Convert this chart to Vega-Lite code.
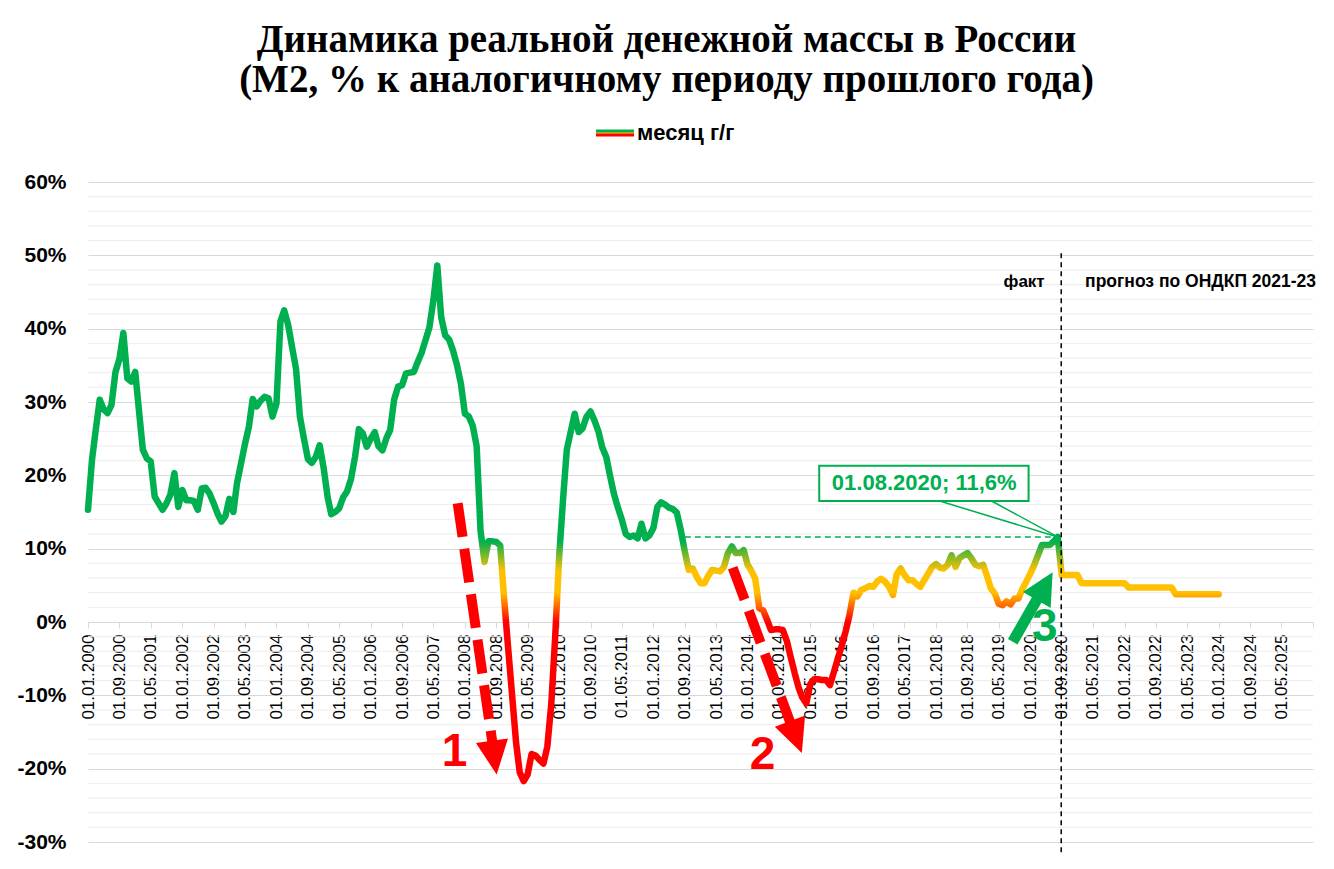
{
  "$schema": "https://vega.github.io/schema/vega-lite/v6.json",
  "width": 1225,
  "height": 660,
  "autosize": {"type": "none"},
  "padding": {"left": 88, "top": 182, "right": 21, "bottom": 27},
  "background": "white",
  "config": {"view": {"stroke": null}, "font": "Liberation Sans"},
  "title": {
    "text": ["Динамика реальной денежной массы в России", "(М2, % к аналогичному периоду прошлого года)"],
    "anchor": "middle", "frame": "group", "dx": -34, "offset": 14,
    "font": "Liberation Serif", "fontSize": 39, "fontWeight": "bold", "lineHeight": 40, "color": "black"
  },
  "datasets": {
    "m2": [
      {"d":"2000-01-01","v":15.3},{"d":"2000-02-01","v":22.1},{"d":"2000-03-01","v":26.2},{"d":"2000-04-01","v":30.3},{"d":"2000-05-01","v":29.0},{"d":"2000-06-01","v":28.5},{"d":"2000-07-01","v":29.6},{"d":"2000-08-01","v":34.1},{"d":"2000-09-01","v":35.9},{"d":"2000-10-01","v":39.4},{"d":"2000-11-01","v":33.2},{"d":"2000-12-01","v":32.8},
      {"d":"2001-01-01","v":34.1},{"d":"2001-02-01","v":28.5},{"d":"2001-03-01","v":23.5},{"d":"2001-04-01","v":22.3},{"d":"2001-05-01","v":21.9},{"d":"2001-06-01","v":17.1},{"d":"2001-07-01","v":16.2},{"d":"2001-08-01","v":15.3},{"d":"2001-09-01","v":16.2},{"d":"2001-10-01","v":17.4},{"d":"2001-11-01","v":20.3},{"d":"2001-12-01","v":15.7},
      {"d":"2002-01-01","v":18.0},{"d":"2002-02-01","v":16.6},{"d":"2002-03-01","v":16.6},{"d":"2002-04-01","v":16.5},{"d":"2002-05-01","v":15.3},{"d":"2002-06-01","v":18.2},{"d":"2002-07-01","v":18.3},{"d":"2002-08-01","v":17.5},{"d":"2002-09-01","v":16.2},{"d":"2002-10-01","v":14.8},{"d":"2002-11-01","v":13.7},{"d":"2002-12-01","v":14.4},
      {"d":"2003-01-01","v":16.8},{"d":"2003-02-01","v":15.0},{"d":"2003-03-01","v":18.9},{"d":"2003-04-01","v":21.6},{"d":"2003-05-01","v":24.2},{"d":"2003-06-01","v":26.6},{"d":"2003-07-01","v":30.4},{"d":"2003-08-01","v":29.4},{"d":"2003-09-01","v":30.2},{"d":"2003-10-01","v":30.7},{"d":"2003-11-01","v":30.5},{"d":"2003-12-01","v":28.0},
      {"d":"2004-01-01","v":29.8},{"d":"2004-02-01","v":41.0},{"d":"2004-03-01","v":42.5},{"d":"2004-04-01","v":40.5},{"d":"2004-05-01","v":37.5},{"d":"2004-06-01","v":34.5},{"d":"2004-07-01","v":28.0},{"d":"2004-08-01","v":25.0},{"d":"2004-09-01","v":22.2},{"d":"2004-10-01","v":21.7},{"d":"2004-11-01","v":22.5},{"d":"2004-12-01","v":24.1},
      {"d":"2005-01-01","v":21.0},{"d":"2005-02-01","v":17.0},{"d":"2005-03-01","v":14.7},{"d":"2005-04-01","v":15.0},{"d":"2005-05-01","v":15.5},{"d":"2005-06-01","v":17.0},{"d":"2005-07-01","v":17.8},{"d":"2005-08-01","v":19.5},{"d":"2005-09-01","v":22.5},{"d":"2005-10-01","v":26.3},{"d":"2005-11-01","v":25.7},{"d":"2005-12-01","v":23.9},
      {"d":"2006-01-01","v":25.0},{"d":"2006-02-01","v":25.9},{"d":"2006-03-01","v":24.0},{"d":"2006-04-01","v":23.4},{"d":"2006-05-01","v":25.0},{"d":"2006-06-01","v":26.2},{"d":"2006-07-01","v":30.3},{"d":"2006-08-01","v":32.1},{"d":"2006-09-01","v":32.3},{"d":"2006-10-01","v":33.9},{"d":"2006-11-01","v":34.0},{"d":"2006-12-01","v":34.1},
      {"d":"2007-01-01","v":35.5},{"d":"2007-02-01","v":36.8},{"d":"2007-03-01","v":38.4},{"d":"2007-04-01","v":40.2},{"d":"2007-05-01","v":43.8},{"d":"2007-06-01","v":48.6},{"d":"2007-07-01","v":41.6},{"d":"2007-08-01","v":39.1},{"d":"2007-09-01","v":38.5},{"d":"2007-10-01","v":37.0},{"d":"2007-11-01","v":35.0},{"d":"2007-12-01","v":32.5},
      {"d":"2008-01-01","v":28.4},{"d":"2008-02-01","v":28.0},{"d":"2008-03-01","v":26.8},{"d":"2008-04-01","v":24.0},{"d":"2008-05-01","v":12.5},{"d":"2008-06-01","v":8.2},{"d":"2008-07-01","v":11.0},{"d":"2008-08-01","v":11.0},{"d":"2008-09-01","v":10.9},{"d":"2008-10-01","v":10.4},{"d":"2008-11-01","v":3.0},{"d":"2008-12-01","v":-3.5},
      {"d":"2009-01-01","v":-10.0},{"d":"2009-02-01","v":-16.5},{"d":"2009-03-01","v":-20.5},{"d":"2009-04-01","v":-21.7},{"d":"2009-05-01","v":-20.8},{"d":"2009-06-01","v":-18.0},{"d":"2009-07-01","v":-18.2},{"d":"2009-08-01","v":-18.8},{"d":"2009-09-01","v":-19.3},{"d":"2009-10-01","v":-17.0},{"d":"2009-11-01","v":-11.1},{"d":"2009-12-01","v":-2.0},
      {"d":"2010-01-01","v":9.0},{"d":"2010-02-01","v":17.0},{"d":"2010-03-01","v":23.5},{"d":"2010-04-01","v":26.0},{"d":"2010-05-01","v":28.4},{"d":"2010-06-01","v":25.9},{"d":"2010-07-01","v":26.4},{"d":"2010-08-01","v":28.0},{"d":"2010-09-01","v":28.7},{"d":"2010-10-01","v":27.5},{"d":"2010-11-01","v":26.0},{"d":"2010-12-01","v":23.8},
      {"d":"2011-01-01","v":22.5},{"d":"2011-02-01","v":19.8},{"d":"2011-03-01","v":17.5},{"d":"2011-04-01","v":15.6},{"d":"2011-05-01","v":14.0},{"d":"2011-06-01","v":12.0},{"d":"2011-07-01","v":11.6},{"d":"2011-08-01","v":11.8},{"d":"2011-09-01","v":11.4},{"d":"2011-10-01","v":13.4},{"d":"2011-11-01","v":11.4},{"d":"2011-12-01","v":11.8},
      {"d":"2012-01-01","v":12.8},{"d":"2012-02-01","v":15.7},{"d":"2012-03-01","v":16.3},{"d":"2012-04-01","v":16.0},{"d":"2012-05-01","v":15.6},{"d":"2012-06-01","v":15.4},{"d":"2012-07-01","v":14.9},{"d":"2012-08-01","v":12.5},{"d":"2012-09-01","v":9.6},{"d":"2012-10-01","v":7.1},{"d":"2012-11-01","v":7.3},{"d":"2012-12-01","v":6.2},
      {"d":"2013-01-01","v":5.3},{"d":"2013-02-01","v":5.3},{"d":"2013-03-01","v":6.3},{"d":"2013-04-01","v":7.1},{"d":"2013-05-01","v":7.0},{"d":"2013-06-01","v":6.9},{"d":"2013-07-01","v":7.5},{"d":"2013-08-01","v":9.4},{"d":"2013-09-01","v":10.3},{"d":"2013-10-01","v":9.4},{"d":"2013-11-01","v":9.4},{"d":"2013-12-01","v":9.8},
      {"d":"2014-01-01","v":7.8},{"d":"2014-02-01","v":6.9},{"d":"2014-03-01","v":5.9},{"d":"2014-04-01","v":1.9},{"d":"2014-05-01","v":1.6},{"d":"2014-06-01","v":0.3},{"d":"2014-07-01","v":-1.1},{"d":"2014-08-01","v":-1.0},{"d":"2014-09-01","v":-1.0},{"d":"2014-10-01","v":-1.1},{"d":"2014-11-01","v":-2.6},{"d":"2014-12-01","v":-4.8},
      {"d":"2015-01-01","v":-7.0},{"d":"2015-02-01","v":-9.0},{"d":"2015-03-01","v":-10.3},{"d":"2015-04-01","v":-11.1},{"d":"2015-05-01","v":-8.5},{"d":"2015-06-01","v":-7.8},{"d":"2015-07-01","v":-7.8},{"d":"2015-08-01","v":-7.9},{"d":"2015-09-01","v":-7.9},{"d":"2015-10-01","v":-8.6},{"d":"2015-11-01","v":-6.8},{"d":"2015-12-01","v":-5.0},
      {"d":"2016-01-01","v":-3.2},{"d":"2016-02-01","v":-1.2},{"d":"2016-03-01","v":1.0},{"d":"2016-04-01","v":4.0},{"d":"2016-05-01","v":3.5},{"d":"2016-06-01","v":4.4},{"d":"2016-07-01","v":4.6},{"d":"2016-08-01","v":4.9},{"d":"2016-09-01","v":4.8},{"d":"2016-10-01","v":5.5},{"d":"2016-11-01","v":5.9},{"d":"2016-12-01","v":5.5},
      {"d":"2017-01-01","v":4.8},{"d":"2017-02-01","v":3.7},{"d":"2017-03-01","v":6.5},{"d":"2017-04-01","v":7.3},{"d":"2017-05-01","v":6.4},{"d":"2017-06-01","v":5.7},{"d":"2017-07-01","v":5.7},{"d":"2017-08-01","v":5.2},{"d":"2017-09-01","v":4.8},{"d":"2017-10-01","v":5.7},{"d":"2017-11-01","v":6.6},{"d":"2017-12-01","v":7.5},
      {"d":"2018-01-01","v":7.9},{"d":"2018-02-01","v":7.4},{"d":"2018-03-01","v":7.3},{"d":"2018-04-01","v":7.8},{"d":"2018-05-01","v":9.1},{"d":"2018-06-01","v":7.5},{"d":"2018-07-01","v":8.7},{"d":"2018-08-01","v":9.1},{"d":"2018-09-01","v":9.4},{"d":"2018-10-01","v":8.7},{"d":"2018-11-01","v":7.8},{"d":"2018-12-01","v":7.6},
      {"d":"2019-01-01","v":7.8},{"d":"2019-02-01","v":6.2},{"d":"2019-03-01","v":4.6},{"d":"2019-04-01","v":3.9},{"d":"2019-05-01","v":2.5},{"d":"2019-06-01","v":2.3},{"d":"2019-07-01","v":2.8},{"d":"2019-08-01","v":2.4},{"d":"2019-09-01","v":3.2},{"d":"2019-10-01","v":3.2},{"d":"2019-11-01","v":4.5},{"d":"2019-12-01","v":5.5},
      {"d":"2020-01-01","v":6.6},{"d":"2020-02-01","v":7.8},{"d":"2020-03-01","v":9.1},{"d":"2020-04-01","v":10.5},{"d":"2020-05-01","v":10.5},{"d":"2020-06-01","v":10.5},{"d":"2020-07-01","v":11.0},{"d":"2020-08-01","v":11.6},{"d":"2020-09-01","v":6.4},{"d":"2020-10-01","v":6.4},{"d":"2020-11-01","v":6.4},{"d":"2020-12-01","v":6.4},
      {"d":"2021-01-01","v":6.4},{"d":"2021-02-01","v":5.3},{"d":"2021-03-01","v":5.3},{"d":"2021-04-01","v":5.3},{"d":"2021-05-01","v":5.3},{"d":"2021-06-01","v":5.3},{"d":"2021-07-01","v":5.3},{"d":"2021-08-01","v":5.3},{"d":"2021-09-01","v":5.3},{"d":"2021-10-01","v":5.3},{"d":"2021-11-01","v":5.3},{"d":"2021-12-01","v":5.3},
      {"d":"2022-01-01","v":5.3},{"d":"2022-02-01","v":4.7},{"d":"2022-03-01","v":4.7},{"d":"2022-04-01","v":4.7},{"d":"2022-05-01","v":4.7},{"d":"2022-06-01","v":4.7},{"d":"2022-07-01","v":4.7},{"d":"2022-08-01","v":4.7},{"d":"2022-09-01","v":4.7},{"d":"2022-10-01","v":4.7},{"d":"2022-11-01","v":4.7},{"d":"2022-12-01","v":4.7},
      {"d":"2023-01-01","v":4.7},{"d":"2023-02-01","v":3.8},{"d":"2023-03-01","v":3.8},{"d":"2023-04-01","v":3.8},{"d":"2023-05-01","v":3.8},{"d":"2023-06-01","v":3.8},{"d":"2023-07-01","v":3.8},{"d":"2023-08-01","v":3.8},{"d":"2023-09-01","v":3.8},{"d":"2023-10-01","v":3.8},{"d":"2023-11-01","v":3.8},{"d":"2023-12-01","v":3.8},
      {"d":"2024-01-01","v":3.8}
    ]
  },
  "encoding": {
    "x": {
      "field": "d", "type": "temporal",
      "scale": {"type": "utc", "domain": [{"year": 2000, "month": 1, "date": 1, "utc": true}, {"year": 2026, "month": 1, "date": 1, "utc": true}]},
      "axis": {
        "title": null, "grid": false, "offset": -220,
        "values": [
          {"year":2000,"month":1,"date":1,"utc":true},{"year":2000,"month":9,"date":1,"utc":true},{"year":2001,"month":5,"date":1,"utc":true},
          {"year":2002,"month":1,"date":1,"utc":true},{"year":2002,"month":9,"date":1,"utc":true},{"year":2003,"month":5,"date":1,"utc":true},
          {"year":2004,"month":1,"date":1,"utc":true},{"year":2004,"month":9,"date":1,"utc":true},{"year":2005,"month":5,"date":1,"utc":true},
          {"year":2006,"month":1,"date":1,"utc":true},{"year":2006,"month":9,"date":1,"utc":true},{"year":2007,"month":5,"date":1,"utc":true},
          {"year":2008,"month":1,"date":1,"utc":true},{"year":2008,"month":9,"date":1,"utc":true},{"year":2009,"month":5,"date":1,"utc":true},
          {"year":2010,"month":1,"date":1,"utc":true},{"year":2010,"month":9,"date":1,"utc":true},{"year":2011,"month":5,"date":1,"utc":true},
          {"year":2012,"month":1,"date":1,"utc":true},{"year":2012,"month":9,"date":1,"utc":true},{"year":2013,"month":5,"date":1,"utc":true},
          {"year":2014,"month":1,"date":1,"utc":true},{"year":2014,"month":9,"date":1,"utc":true},{"year":2015,"month":5,"date":1,"utc":true},
          {"year":2016,"month":1,"date":1,"utc":true},{"year":2016,"month":9,"date":1,"utc":true},{"year":2017,"month":5,"date":1,"utc":true},
          {"year":2018,"month":1,"date":1,"utc":true},{"year":2018,"month":9,"date":1,"utc":true},{"year":2019,"month":5,"date":1,"utc":true},
          {"year":2020,"month":1,"date":1,"utc":true},{"year":2020,"month":9,"date":1,"utc":true},{"year":2021,"month":5,"date":1,"utc":true},
          {"year":2022,"month":1,"date":1,"utc":true},{"year":2022,"month":9,"date":1,"utc":true},{"year":2023,"month":5,"date":1,"utc":true},
          {"year":2024,"month":1,"date":1,"utc":true},{"year":2024,"month":9,"date":1,"utc":true},{"year":2025,"month":5,"date":1,"utc":true},
          {"year":2026,"month":1,"date":1,"utc":true}
        ],
        "format": "%d.%m.%Y",
        "labelExpr": "datum.value > 1760000000000 ? '' : datum.label",
        "labelAngle": -90, "labelAlign": "right", "labelBaseline": "middle",
        "labelFont": "Liberation Sans", "labelFontSize": 17, "labelColor": "black",
        "labelOverlap": false, "labelFlush": false, "labelPadding": 6,
        "tickColor": "#D9D9D9", "tickSize": 6, "domainColor": "#D9D9D9"
      }
    },
    "y": {
      "field": "v", "type": "quantitative",
      "scale": {"domain": [-30, 60], "nice": false, "zero": false},
      "axis": {
        "title": null, "values": [-30, -20, -10, 0, 10, 20, 30, 40, 50, 60],
        "labelExpr": "datum.value + '%'", "grid": true, "gridColor": "#D9D9D9",
        "domain": false, "ticks": false, "labelPadding": 22,
        "labelFont": "Liberation Sans", "labelFontSize": 21, "labelFontWeight": "bold", "labelColor": "black"
      }
    }
  },
  "layer": [
    {
      "data": {"values": [
        {"d":"2000-01-01","d2":"2026-01-01","v":-28},{"d":"2000-01-01","d2":"2026-01-01","v":-26},{"d":"2000-01-01","d2":"2026-01-01","v":-24},{"d":"2000-01-01","d2":"2026-01-01","v":-22},
        {"d":"2000-01-01","d2":"2026-01-01","v":-18},{"d":"2000-01-01","d2":"2026-01-01","v":-16},{"d":"2000-01-01","d2":"2026-01-01","v":-14},{"d":"2000-01-01","d2":"2026-01-01","v":-12},
        {"d":"2000-01-01","d2":"2026-01-01","v":-8},{"d":"2000-01-01","d2":"2026-01-01","v":-6},{"d":"2000-01-01","d2":"2026-01-01","v":-4},{"d":"2000-01-01","d2":"2026-01-01","v":-2},
        {"d":"2000-01-01","d2":"2026-01-01","v":2},{"d":"2000-01-01","d2":"2026-01-01","v":4},{"d":"2000-01-01","d2":"2026-01-01","v":6},{"d":"2000-01-01","d2":"2026-01-01","v":8},
        {"d":"2000-01-01","d2":"2026-01-01","v":12},{"d":"2000-01-01","d2":"2026-01-01","v":14},{"d":"2000-01-01","d2":"2026-01-01","v":16},{"d":"2000-01-01","d2":"2026-01-01","v":18},
        {"d":"2000-01-01","d2":"2026-01-01","v":22},{"d":"2000-01-01","d2":"2026-01-01","v":24},{"d":"2000-01-01","d2":"2026-01-01","v":26},{"d":"2000-01-01","d2":"2026-01-01","v":28},
        {"d":"2000-01-01","d2":"2026-01-01","v":32},{"d":"2000-01-01","d2":"2026-01-01","v":34},{"d":"2000-01-01","d2":"2026-01-01","v":36},{"d":"2000-01-01","d2":"2026-01-01","v":38},
        {"d":"2000-01-01","d2":"2026-01-01","v":42},{"d":"2000-01-01","d2":"2026-01-01","v":44},{"d":"2000-01-01","d2":"2026-01-01","v":46},{"d":"2000-01-01","d2":"2026-01-01","v":48},
        {"d":"2000-01-01","d2":"2026-01-01","v":52},{"d":"2000-01-01","d2":"2026-01-01","v":54},{"d":"2000-01-01","d2":"2026-01-01","v":56},{"d":"2000-01-01","d2":"2026-01-01","v":58}
      ]},
      "mark": {"type": "rule", "color": "#EDEDED", "strokeWidth": 1},
      "encoding": {"x2": {"field": "d2"}}
    },
    {
      "data": {"values": [{"d":"2012-09-01","d2":"2020-08-01","v":11.6}]},
      "mark": {"type": "rule", "color": "#00B050", "strokeWidth": 1.5, "strokeDash": [6, 4]},
      "encoding": {"x2": {"field": "d2"}}
    },
    {
      "data": {"name": "m2"},
      "mark": {
        "type": "line", "strokeWidth": 6.5, "strokeCap": "round", "strokeJoin": "round",
        "stroke": {"gradient": "linear", "x1": 0, "y1": 0, "x2": 0, "y2": 1, "stops": [
          {"offset": 0, "color": "#00B050"},
          {"offset": 0.5349, "color": "#00B050"},
          {"offset": 0.5917, "color": "#FFC000"},
          {"offset": 0.6344, "color": "#FFC000"},
          {"offset": 0.6913, "color": "#FF0000"},
          {"offset": 1, "color": "#FF0000"}
        ]}
      }
    },
    {
      "data": {"values": [{"d":"2000-01-01","v":15.3}]},
      "mark": {
        "type": "point", "filled": true, "opacity": 0, "strokeWidth": 0,
        "fill": {"gradient": "linear", "x1": 0, "y1": 0, "x2": 0, "y2": 1, "stops": [
          {"offset": 0, "color": "#00B050"}, {"offset": 0.33, "color": "#00B050"},
          {"offset": 0.5, "color": "#FFC000"}, {"offset": 0.67, "color": "#FF0000"}, {"offset": 1, "color": "#FF0000"}]}
      },
      "encoding": {
        "shape": {
          "datum": "месяц г/г",
          "scale": {"range": ["M-1,-0.18H1V0.18H-1Z"]},
          "legend": {
            "orient": "none", "legendX": 508, "legendY": -68, "title": null,
            "symbolSize": 1444, "symbolOpacity": 1, "symbolStrokeWidth": 0,
            "labelFont": "Liberation Sans", "labelFontSize": 22, "labelFontWeight": "bold", "labelColor": "black", "labelOffset": 3
          }
        }
      }
    },
    {
      "data": {"values": [{"d":"2020-08-28","v":50.3,"v2":-31.8}]},
      "mark": {"type": "rule", "color": "black", "strokeWidth": 1.5, "strokeDash": [5, 4]},
      "encoding": {"y2": {"field": "v2"}}
    },
    {
      "data": {"values": [
        {"d":"2007-11-06","v":16.2,"d2":"2008-08-04","v2":-16.8},
        {"d":"2013-09-07","v":7.4,"d2":"2014-12-04","v2":-14.0}
      ]},
      "mark": {"type": "rule", "color": "#FF0000", "strokeWidth": 10, "strokeDash": [34, 12], "strokeCap": "butt"},
      "encoding": {"x2": {"field": "d2"}, "y2": {"field": "v2"}}
    },
    {
      "data": {"values": [{"d":"2008-08-16","v":-18.5,"a":172},{"d":"2015-01-10","v":-15.7,"a":159.5}]},
      "mark": {"type": "point", "shape": "M0,-1L0.95,1L-0.95,1Z", "filled": true, "color": "#FF0000", "opacity": 1, "size": 1156, "strokeWidth": 0},
      "encoding": {"angle": {"field": "a", "type": "quantitative", "scale": null}}
    },
    {
      "data": {"values": [{"d":"2019-08-18","v":-2.7,"d2":"2020-03-07","v2":3.5}]},
      "mark": {"type": "rule", "color": "#00B050", "strokeWidth": 11, "strokeCap": "butt"},
      "encoding": {"x2": {"field": "d2"}, "y2": {"field": "v2"}}
    },
    {
      "data": {"values": [{"d":"2020-04-22","v":4.9,"a":29.7}]},
      "mark": {"type": "point", "shape": "M0,-1L1,1L-1,1Z", "filled": true, "color": "#00B050", "opacity": 1, "size": 1024, "strokeWidth": 0},
      "encoding": {"angle": {"field": "a", "type": "quantitative", "scale": null}}
    },
    {
      "data": {"values": [
        {"d":"2007-10-13","v":-17.7,"t":"1","c":"r"},
        {"d":"2014-04-26","v":-18.1,"t":"2","c":"r"},
        {"d":"2020-04-22","v":-0.7,"t":"3","c":"g"}
      ]},
      "mark": {"type": "text", "align": "center", "baseline": "middle", "font": "Liberation Sans", "fontSize": 46, "fontWeight": "bold"},
      "encoding": {
        "text": {"field": "t"},
        "color": {"field": "c", "type": "nominal", "scale": {"domain": ["r", "g"], "range": ["#FF0000", "#00B050"]}, "legend": null}
      }
    },
    {
      "data": {"values": [
        {"d":"2018-01-28","v":16.5,"d2":"2020-08-01","v2":11.6},
        {"d":"2019-03-07","v":16.5,"d2":"2020-08-01","v2":11.6}
      ]},
      "mark": {"type": "rule", "color": "#00B050", "strokeWidth": 1.5},
      "encoding": {"x2": {"field": "d2"}, "y2": {"field": "v2"}}
    },
    {
      "data": {"values": [{"d":"2015-07-10","d2":"2019-12-19","v":21.3,"v2":16.5}]},
      "mark": {"type": "rect", "fill": "white", "stroke": "#00B050", "strokeWidth": 2},
      "encoding": {"x2": {"field": "d2"}, "y2": {"field": "v2"}}
    },
    {
      "data": {"values": [{"d":"2017-10-01","v":18.9,"t":"01.08.2020; 11,6%"}]},
      "mark": {"type": "text", "align": "center", "baseline": "middle", "font": "Liberation Sans", "fontSize": 22, "fontWeight": "bold", "color": "#00B050"},
      "encoding": {"text": {"field": "t"}}
    },
    {
      "data": {"values": [{"d":"2020-04-22","v":46.4,"t":"факт"}]},
      "mark": {"type": "text", "align": "right", "baseline": "middle", "font": "Liberation Sans", "fontSize": 17, "fontWeight": "bold", "color": "black"},
      "encoding": {"text": {"field": "t"}}
    },
    {
      "data": {"values": [{"d":"2021-03-01","v":46.4,"t":"прогноз по ОНДКП 2021-23"}]},
      "mark": {"type": "text", "align": "left", "baseline": "middle", "font": "Liberation Sans", "fontSize": 17.5, "fontWeight": "bold", "color": "black"},
      "encoding": {"text": {"field": "t"}}
    }
  ]
}
